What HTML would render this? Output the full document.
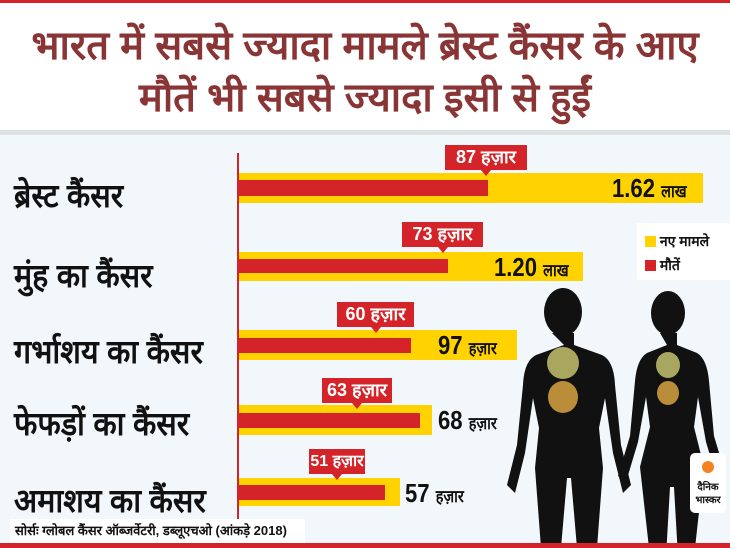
<!DOCTYPE html>
<html><head><meta charset="utf-8"><style>
*{margin:0;padding:0;box-sizing:border-box}
body{width:730px;height:548px;overflow:hidden;position:relative;background:#f1f7fb;font-family:"Liberation Sans","Noto Sans CJK SC",sans-serif}
.a{position:absolute;white-space:nowrap}
.tbg{left:0;top:3px;width:730px;height:127px;background:#fff}
.title{left:0;top:20px;width:730px;color:#8a3535;font-weight:bold;font-size:40px;text-align:center;line-height:52px}
.cat{left:14px;font-size:33px;font-weight:bold;color:#111;transform:scaleX(0.92);transform-origin:left}
.y{background:#ffd200}.r{background:#d42429}
.box{background:#d42429;color:#fff;font-weight:bold;font-size:18px;text-align:center;line-height:25px;height:25px}
.box:after{content:"";position:absolute;left:50%;top:25px;margin-left:-5px;border:5px solid transparent;border-top:6px solid #d42429}
.val{font-weight:bold;color:#111;font-size:26px;transform:scaleX(0.85);transform-origin:left}
.val small{font-size:17px}
</style></head><body>
<div class="a r" style="left:0;top:0;width:730px;height:4px"></div>
<div class="a tbg"></div>
<div class="a title">भारत में सबसे ज्यादा मामले ब्रेस्ट कैंसर के आए<br>मौतें भी सबसे ज्यादा इसी से हुईं</div>
<div class="a" style="left:0;top:130px;width:730px;height:5px;background:#dde2e5"></div>
<div class="a r" style="left:237px;top:153px;width:2px;height:366px"></div>

<div class="a cat" style="top:172px">ब्रेस्ट कैंसर</div>
<div class="a y" style="left:239px;top:173px;width:464px;height:30px"></div>
<div class="a r" style="left:239px;top:180px;width:249px;height:16px"></div>
<div class="a box" style="left:445px;top:145px;width:82px">87 हज़ार</div>
<div class="a val" style="left:612px;top:173px">1.62 <small>लाख</small></div>

<div class="a cat" style="top:252px">मुंह का कैंसर</div>
<div class="a y" style="left:239px;top:252px;width:344px;height:29px"></div>
<div class="a r" style="left:239px;top:259px;width:209px;height:14px"></div>
<div class="a box" style="left:402px;top:222px;width:81px">73 हज़ार</div>
<div class="a val" style="left:494px;top:252px">1.20 <small>लाख</small></div>

<div class="a cat" style="top:328px">गर्भाशय का कैंसर</div>
<div class="a y" style="left:239px;top:330px;width:278px;height:30px"></div>
<div class="a r" style="left:239px;top:338px;width:172px;height:15px"></div>
<div class="a box" style="left:337px;top:302px;width:77px">60 हज़ार</div>
<div class="a val" style="left:438px;top:330px">97 <small>हज़ार</small></div>

<div class="a cat" style="top:400px">फेफड़ों का कैंसर</div>
<div class="a y" style="left:239px;top:405px;width:193px;height:30px"></div>
<div class="a r" style="left:239px;top:413px;width:181px;height:15px"></div>
<div class="a box" style="left:322px;top:378px;width:70px">63 हज़ार</div>
<div class="a val" style="left:438px;top:405px">68 <small>हज़ार</small></div>

<div class="a cat" style="top:477px">अमाशय का कैंसर</div>
<div class="a y" style="left:239px;top:478px;width:161px;height:28px"></div>
<div class="a r" style="left:239px;top:485px;width:146px;height:15px"></div>
<div class="a box" style="left:309px;top:449px;width:56px;font-size:16px">51 हज़ार</div>
<div class="a val" style="left:405px;top:478px">57 <small>हज़ार</small></div>

<div class="a" style="left:637px;top:223px;width:93px;height:57px;background:#fff;font-size:14px;font-weight:bold;color:#111">
<div style="margin:9px 0 0 8px"><span style="display:inline-block;width:11px;height:11px;background:#ffd200;vertical-align:-1px"></span> नए मामले</div>
<div style="margin:5px 0 0 8px"><span style="display:inline-block;width:11px;height:11px;background:#d42429;vertical-align:-1px"></span> मौतें</div>
</div>

<svg class="a" style="left:500px;top:285px" width="230" height="263">
<g fill="#111">
<ellipse cx="63" cy="27" rx="19" ry="24"/>
<path d="M52 48h22v12l28 10q12 6 13 30l6 60 10 40-8 8-10-40-8-55-6 30 4 40-6 80h-20l-6-70h-4l-6 70h-20l-6-80 4-40-6-30-8 55-10 40-8-8 10-40 6-60q1-24 13-30l28-10z"/>
<ellipse cx="168" cy="28" rx="17" ry="22"/>
<path d="M160 48h17v12l20 8q10 6 12 28l5 55 12 40-8 6-12-40-8-45-4 30 10 40-10 90h-16l-4-70h-4l-4 70h-16l-10-90 10-40-4-30-8 45-12 40-8-6 12-40 5-55q2-22 12-28l20-8z"/>
</g>
<g fill="#a9a660"><ellipse cx="63" cy="78" rx="16" ry="16"/><ellipse cx="168" cy="80" rx="12" ry="13"/></g>
<g fill="#b98d3a"><ellipse cx="63" cy="112" rx="15" ry="16"/><ellipse cx="168" cy="108" rx="11" ry="12"/></g>
<rect x="190" y="168" width="36" height="60" rx="5" fill="#fff"/>
<circle cx="208" cy="182" r="6" fill="#f58220"/>
<text x="208" y="205" font-size="10" font-weight="bold" text-anchor="middle" fill="#111" font-family="Liberation Sans,sans-serif">दैनिक</text>
<text x="208" y="218" font-size="10" font-weight="bold" text-anchor="middle" fill="#111" font-family="Liberation Sans,sans-serif">भास्कर</text>
</svg>

<div class="a" style="left:10px;top:519px;width:295px;height:24px;background:#fff;font-size:13px;font-weight:bold;color:#111;line-height:24px;padding-left:5px">सोर्सः ग्लोबल कैंसर ऑब्जर्वेटरी, डब्लूएचओ (आंकड़े 2018)</div>
<div class="a r" style="left:0;top:543px;width:730px;height:5px"></div>
</body></html>
